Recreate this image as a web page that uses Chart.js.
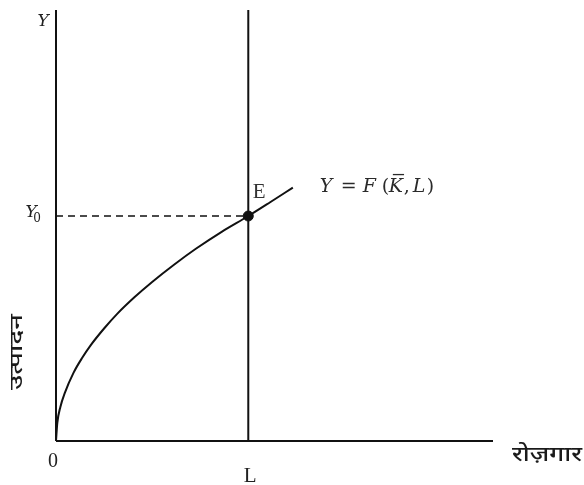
<!DOCTYPE html>
<html>
<head>
<meta charset="utf-8">
<script src="https://cdn.jsdelivr.net/npm/chart.js@4.4.1/dist/chart.umd.min.js"></script>
<style>
  html, body { margin: 0; padding: 0; background: #ffffff; }
  #wrap { width: 584px; height: 485px; position: relative; }
</style>
</head>
<body>
<div id="wrap"><canvas id="c" width="584" height="485"></canvas></div>
<script>
// ---- data (units: 0..100 on each axis) ----
const curveX = [0, 0.3, 1, 2, 4, 6, 8, 11, 14, 18, 22, 27, 32, 38, 44, 49, 54.2];
const curveY = [0, 4.2, 7.9, 11.1, 15.8, 19.3, 22.3, 26.1, 29.5, 33.4, 36.9, 40.9, 44.6, 48.6, 52.2, 55.4, 58.8];
const xAxisMax = 100;
const yAxisMax = 100;
const employmentL = 44;     // L on the horizontal axis
const outputY0 = 52.2;      // Y0 on the vertical axis
const labels = {
  yAxis: 'Y', y0: 'Y', y0sub: '0', origin: '0', lMark: 'L', point: 'E',
  xTitle: 'रोज़गार', yTitle: 'उत्पादन'
};
const formulaParts = ['Y', '=', 'F', '(', 'K', ',', 'L', ')'];

const curve = curveX.map((x, i) => ({ x: x, y: curveY[i] }));
const ink = '#111111';
const MATH = '"DejaVu Serif", "Liberation Serif", serif';
const SERIF = '"Liberation Serif", serif';
const DEVA = '"Noto Sans Devanagari", "Noto Sans", "Lohit Devanagari", sans-serif';

const textPlugin = {
  id: 'texts',
  afterDatasetsDraw(chart) {
    const ctx = chart.ctx;
    const xs = chart.scales.x, ys = chart.scales.y;
    const px = v => xs.getPixelForValue(v);
    const py = v => ys.getPixelForValue(v);
    const x0 = px(0), y0 = py(0);
    ctx.save();
    ctx.fillStyle = '#222222';
    ctx.textBaseline = 'alphabetic';
    ctx.textAlign = 'center';

    // Y at top of vertical axis
    ctx.font = 'italic 17px ' + MATH;
    ctx.fillText(labels.yAxis, x0 - 13, py(yAxisMax) + 16);

    // Y0
    const yy0 = py(outputY0);
    ctx.font = 'italic 17px ' + MATH;
    ctx.fillText(labels.y0, x0 - 25, yy0 + 1);
    ctx.font = '12px ' + MATH;
    ctx.fillText(labels.y0sub, x0 - 19, yy0 + 6);

    // 0 at origin
    ctx.font = '20px ' + SERIF;
    ctx.fillText(labels.origin, x0 - 3, y0 + 26);

    // L
    ctx.font = '21px ' + SERIF;
    ctx.fillText(labels.lMark, px(employmentL) + 2, y0 + 41);

    // E
    ctx.fillStyle = '#333333';
    ctx.font = '21px ' + SERIF;
    ctx.fillText(labels.point, px(employmentL) + 11, yy0 - 18);

    // Formula  Y = F (K̄, L)
    ctx.fillStyle = '#2a2a2a';
    ctx.textAlign = 'left';
    const endX = curveX[curveX.length - 1], endY = curveY[curveY.length - 1];
    const fx = px(endX) + 27;
    const fy = py(endY) + 4;
    const offs = [0, 21, 43, 62, 69, 84, 93, 107];
    const italic = [true, false, true, false, true, false, true, false];
    formulaParts.forEach((t, i) => {
      ctx.font = (italic[i] ? 'italic ' : '') + '19px ' + MATH;
      ctx.fillText(t, fx + offs[i], fy);
      if (t === 'K') {
        const w = ctx.measureText(t).width;
        ctx.beginPath();
        ctx.lineWidth = 1.3;
        ctx.strokeStyle = '#2a2a2a';
        ctx.moveTo(fx + offs[i] + 4, fy - 17);
        ctx.lineTo(fx + offs[i] + w + 1, fy - 17);
        ctx.stroke();
      }
    });

    // x title (stretched to the reference width)
    ctx.fillStyle = '#1a1a1a';
    ctx.font = '500 21px ' + DEVA;
    ctx.textAlign = 'left';
    let w = ctx.measureText(labels.xTitle).width;
    ctx.save();
    ctx.translate(px(xAxisMax) + 19, y0 + 20);
    ctx.scale(70 / w, 1);
    ctx.fillText(labels.xTitle, 0, 0);
    ctx.restore();

    // y title (rotated, stretched)
    ctx.font = '500 17px ' + DEVA;
    w = ctx.measureText(labels.yTitle).width;
    ctx.save();
    ctx.translate(22, y0 - 89);
    ctx.rotate(-Math.PI / 2);
    ctx.scale(76 / w, 1);
    ctx.textAlign = 'center';
    ctx.fillText(labels.yTitle, 0, 0);
    ctx.restore();

    ctx.restore();
  }
};

new Chart(document.getElementById('c'), {
  type: 'scatter',
  data: {
    datasets: [
      { // horizontal axis
        data: [{ x: 0, y: 0 }, { x: xAxisMax, y: 0 }],
        showLine: true, borderColor: ink, borderWidth: 2, pointRadius: 0, clip: false
      },
      { // vertical axis
        data: [{ x: 0, y: 0 }, { x: 0, y: yAxisMax }],
        showLine: true, borderColor: ink, borderWidth: 2, pointRadius: 0, clip: false
      },
      { // vertical line at L
        data: [{ x: employmentL, y: 0 }, { x: employmentL, y: yAxisMax }],
        showLine: true, borderColor: ink, borderWidth: 2, pointRadius: 0, clip: false
      },
      { // dashed Y0 line
        data: [{ x: 0, y: outputY0 }, { x: employmentL, y: outputY0 }],
        showLine: true, borderColor: ink, borderWidth: 1.5, borderDash: [7, 5], pointRadius: 0, clip: false
      },
      { // production function curve
        data: curve,
        showLine: true, borderColor: ink, borderWidth: 2, pointRadius: 0,
        cubicInterpolationMode: 'monotone', clip: false
      },
      { // equilibrium point E
        data: [{ x: employmentL, y: outputY0 }],
        pointRadius: 5, pointBackgroundColor: ink, pointBorderColor: ink, clip: false
      }
    ]
  },
  options: {
    responsive: false,
    animation: false,
    layout: { padding: { left: 56, right: 91, top: 10, bottom: 44 } },
    plugins: { legend: { display: false }, tooltip: { enabled: false } },
    scales: {
      x: { type: 'linear', min: 0, max: xAxisMax, display: false },
      y: { type: 'linear', min: 0, max: yAxisMax, display: false }
    }
  },
  plugins: [textPlugin]
});
</script>
</body>
</html>
